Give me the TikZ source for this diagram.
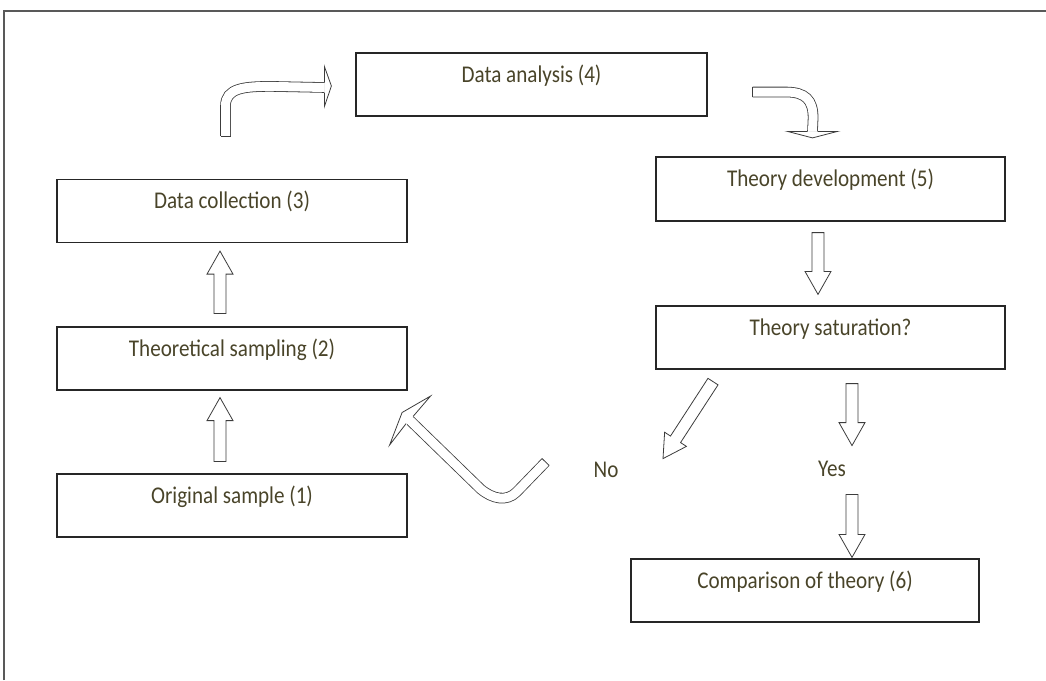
\documentclass[tikz,border=0pt]{standalone}
\usepackage{fontspec}
\setmainfont{Carlito}
\newfontfamily\boxfont[FakeStretch=0.88]{Carlito}
\usetikzlibrary{calc}
\definecolor{txtolive}{RGB}{73,68,41}
\definecolor{edgegray}{RGB}{60,60,60}
% straight block arrow between two named coordinates
\newcommand{\fatarrow}[2]{%
  \coordinate (fa) at ($(#2)!23pt!(#1)$);
  \draw[blk] ($(#1)!6pt!90:(#2)$) -- ($(fa)!6pt!90:(#2)$) -- ($(fa)!13pt!90:(#2)$) -- (#2)
    -- ($(fa)!13pt!-90:(#2)$) -- ($(fa)!6pt!-90:(#2)$) -- ($(#1)!6pt!-90:(#2)$) -- cycle;}
\tikzset{
  stepbox/.style={draw=black!85, line width=1.2pt, minimum width=350pt, minimum height=63pt,
    inner sep=0pt, text height=15pt, text depth=20pt, text=txtolive, font=\boxfont\fontsize{24}{26}\selectfont},
  lbl/.style={text=txtolive, font=\boxfont\fontsize{24}{26}\selectfont, inner sep=0pt, anchor=base},
  blk/.style={draw=edgegray, line width=0.8pt, fill=white, line join=miter},
  tube/.style={draw=edgegray, line width=0.8pt, double=white, double distance=9pt},
  tubeline/.style={draw=edgegray, line width=0.8pt},
  frame/.style={draw=black!65, line width=1.6pt},
}
\begin{document}
\begin{tikzpicture}[x=1pt, y=-1pt]
\useasboundingbox (0,0) rectangle (1046,680);
\draw[frame] (4,680) -- (4,11) -- (1046,11);
%---- boxes
\node[stepbox, minimum width=351pt] (ana) at (531.5,84.5) {Data analysis (4)};
\node[stepbox] (coll) at (232,211) {Data collection (3)};
\node[stepbox] (samp) at (232,358.5) {Theoretical sampling (2)};
\node[stepbox] (orig) at (232,505.5) {Original sample (1)};
\node[stepbox, minimum width=349pt, minimum height=64pt] (dev) at (830.5,189) {Theory development (5)};
\node[stepbox, minimum width=349pt] (sat) at (830.5,337.5) {Theory saturation?};
\node[stepbox, minimum width=348pt] (comp) at (805,590.5) {Comparison of theory (6)};
\node[lbl] (no) at (606,477) {No};
\node[lbl] (yes) at (832,476) {Yes};
%---- straight arrows
\coordinate (a1s) at ($(orig.north)+(-12,-12)$);
\coordinate (a1e) at ($(samp.south)+(-12,7)$);
\fatarrow{a1s}{a1e}
\coordinate (a2s) at ($(samp.north)+(-12,-13)$);
\coordinate (a2e) at ($(coll.south)+(-12,8)$);
\fatarrow{a2s}{a2e}
\coordinate (a3s) at ($(dev.south)+(-12.5,11)$);
\coordinate (a3e) at ($(sat.north)+(-12.5,-11)$);
\fatarrow{a3s}{a3e}
\coordinate (a4s) at ($(sat.south)+(21.5,14)$);
\coordinate (a4e) at ($(sat.south)+(21.5,76)$);
\fatarrow{a4s}{a4e}
\coordinate (a5s) at ($(comp.north)+(47,-64)$);
\coordinate (a5e) at ($(comp.north)+(47,-1)$);
\fatarrow{a5s}{a5e}
\coordinate (a6s) at ($(sat.south)+(-117.5,12)$);
\coordinate (a6e) at ($(sat.south)+(-167.5,89)$);
\fatarrow{a6s}{a6e}
%---- bent arrow: collection -> analysis
\coordinate (t1) at ($(coll.north)+(-6.5,-43)$);
\coordinate (h1) at ($(ana.west)+(-31,3)$);
\draw[tube] (t1) -- ++(0,-30) .. controls +(0,-18) and +(-27,0) .. ++(46,-19.5) -- (h1);
\draw[tubeline] ($(t1)+(-5,0)$) -- ($(t1)+(5,0)$);
\fill[white] ($(h1)+(0,-21)$) -- ($(h1)+(7,-1.5)$) -- ($(h1)+(0,19)$) -- cycle;
\draw[tubeline] ($(h1)+(0,-5)$) -- ($(h1)+(0,-21)$) -- ($(h1)+(7,-1.5)$) -- ($(h1)+(0,19)$) -- ($(h1)+(0,5)$);
%---- bent arrow: analysis -> development
\coordinate (t2) at ($(ana.east)+(45,7.5)$);
\coordinate (h2) at ($(dev.north)+(-18,-25)$);
\draw[tube] (t2) -- ++(33,0) .. controls +(20,0) and +(0,-18) .. ++(27.5,26) -- (h2);
\draw[tubeline] ($(t2)+(0,-5)$) -- ($(t2)+(0,5)$);
\fill[white] ($(h2)+(-25,0)$) -- ($(h2)+(0,6.5)$) -- ($(h2)+(25,0)$) -- cycle;
\draw[tubeline] ($(h2)+(-5,0)$) -- ($(h2)+(-25,0)$) -- ($(h2)+(0,6.5)$) -- ($(h2)+(25,0)$) -- ($(h2)+(5,0)$);
%---- bent arrow: back to sampling
\coordinate (t3) at ($(samp.east)+(138,103.5)$);
\coordinate (h3) at ($(samp.east)+(2,61.5)$);
\draw[tube] (t3) -- ++(-29,30) .. controls +(-10,10) and +(12,10) .. ++(-36,-3) -- (h3);
\draw[tubeline] ($(t3)+(-3.6,-3.5)$) -- ($(t3)+(3.6,3.5)$);
\fill[white] ($(h3)+(21,-24)$) -- ($(h3)+(-7.5,-7.5)$) -- ($(h3)+(-20,25)$) -- cycle;
\draw[tubeline] ($(h3)+(3.5,-3.6)$) -- ($(h3)+(21,-24)$) -- ($(h3)+(-7.5,-7.5)$) -- ($(h3)+(-20,25)$) -- ($(h3)+(-3.5,3.6)$);
\end{tikzpicture}
\end{document}
